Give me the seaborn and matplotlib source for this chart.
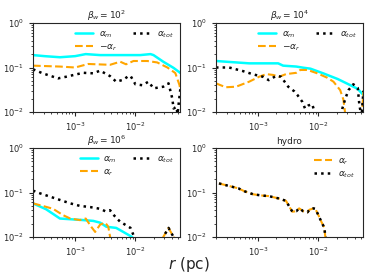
import numpy as np
import pandas as pd
import matplotlib
matplotlib.use("Agg")
import matplotlib.pyplot as plt
import seaborn as sns

# ---------------- data ----------------
titles = [r"$\beta_w = 10^2$", r"$\beta_w = 10^4$", r"$\beta_w = 10^6$", "hydro"]

# panel 1: beta_w = 1e2
r1_m = [2.0e-4, 3.1e-4, 5.6e-4, 1.0e-3, 1.5e-3, 2.6e-3, 6.3e-3, 1.2e-2, 1.78e-2, 2.0e-2, 2.9e-2, 4.3e-2, 5.6e-2]
a1_m = [0.19, 0.18, 0.17, 0.18, 0.20, 0.19, 0.19, 0.19, 0.20, 0.19, 0.135, 0.098, 0.075]
r1_r = [2.0e-4, 5.6e-4, 1.0e-3, 1.65e-3, 3.8e-3, 5.6e-3, 7.0e-3, 9.3e-3, 1.58e-2, 2.3e-2, 3.4e-2, 4.6e-2, 5.4e-2, 5.6e-2]
a1_r = [0.11, 0.105, 0.10, 0.12, 0.115, 0.135, 0.118, 0.14, 0.14, 0.13, 0.10, 0.075, 0.04, 0.03]
r1_t = [2.0e-4, 2.9e-4, 5.2e-4, 7.1e-4, 1.04e-3, 1.36e-3, 2.0e-3, 2.6e-3, 3.8e-3, 4.8e-3, 6.3e-3, 7.4e-3,
        8.3e-3, 1.0e-2, 1.3e-2, 1.65e-2, 2.0e-2, 2.9e-2, 3.55e-2, 4.1e-2, 4.3e-2, 4.8e-2, 5.0e-2, 5.6e-2]
a1_t = [0.091, 0.074, 0.057, 0.062, 0.070, 0.076, 0.074, 0.085, 0.064, 0.048, 0.053, 0.062,
        0.065, 0.042, 0.040, 0.048, 0.034, 0.037, 0.044, 0.020, 0.012, 0.013, 0.009, 0.035]

# panel 2: beta_w = 1e4
r2_m = [2.0e-4, 7.1e-4, 2.15e-3, 2.6e-3, 4.3e-3, 5.6e-3, 7.4e-3, 1.2e-2, 2.1e-2, 3.4e-2, 4.5e-2, 5.6e-2]
a2_m = [0.14, 0.124, 0.124, 0.11, 0.105, 0.099, 0.094, 0.074, 0.055, 0.040, 0.033, 0.024]
r2_r = [2.0e-4, 2.9e-4, 4.3e-4, 7.1e-4, 1.04e-3, 1.36e-3, 1.78e-3, 2.24e-3, 2.9e-3, 4.3e-3, 5.0e-3,
        6.6e-3, 9.6e-3, 1.4e-2, 1.78e-2, 2.3e-2, 2.6e-2, 2.9e-2, 5.2e-2, 5.6e-2]
a2_r = [0.044, 0.036, 0.037, 0.048, 0.062, 0.071, 0.068, 0.062, 0.071, 0.076, 0.088,
        0.088, 0.074, 0.059, 0.048, 0.031, 0.019, 0.006, 0.006, 0.030]
r2_t = [2.0e-4, 3.3e-4, 5.6e-4, 8.3e-4, 1.2e-3, 1.5e-3, 2.0e-3, 2.4e-3, 3.16e-3, 4.0e-3, 4.5e-3, 5.4e-3,
        6.0e-3, 6.8e-3, 7.9e-3, 8.3e-3, 9.3e-3, 2.3e-2, 2.5e-2, 2.8e-2, 3.16e-2, 3.8e-2, 4.5e-2,
        4.8e-2, 5.2e-2, 5.6e-2]
a2_t = [0.10, 0.10, 0.083, 0.070, 0.062, 0.052, 0.065, 0.062, 0.037, 0.029, 0.024, 0.017,
        0.012, 0.014, 0.015, 0.012, 0.006, 0.006, 0.012, 0.020, 0.031, 0.042, 0.035,
        0.014, 0.008, 0.030]

# panel 3: beta_w = 1e6
r3_m = [2.0e-4, 3.3e-4, 5.6e-4, 1.36e-3, 2.0e-3, 2.6e-3, 3.3e-3, 4.8e-3, 6.3e-3, 8.6e-3, 9.5e-3]
a3_m = [0.057, 0.042, 0.026, 0.024, 0.023, 0.021, 0.017, 0.016, 0.013, 0.0102, 0.009]
r3_r = [2.0e-4, 2.9e-4, 4.3e-4, 6.3e-4, 8.3e-4, 1.2e-3, 1.5e-3, 1.85e-3, 2.15e-3, 2.6e-3, 3.16e-3,
        3.55e-3, 3.8e-3, 4.1e-3, 2.6e-2, 2.9e-2, 3.55e-2, 4.3e-2, 4.8e-2]
a3_r = [0.057, 0.050, 0.043, 0.031, 0.026, 0.024, 0.026, 0.017, 0.013, 0.019, 0.021,
        0.017, 0.0102, 0.005, 0.005, 0.010, 0.016, 0.010, 0.005]
r3_t = [2.0e-4, 2.6e-4, 3.8e-4, 5.6e-4, 8.3e-4, 1.2e-3, 1.78e-3, 2.6e-3, 3.16e-3, 3.8e-3, 4.3e-3,
        4.8e-3, 5.6e-3, 6.3e-3, 8.3e-3, 9.3e-3, 1.04e-2, 2.6e-2, 2.9e-2, 3.55e-2, 4.3e-2, 4.8e-2]
a3_t = [0.11, 0.096, 0.081, 0.068, 0.057, 0.050, 0.047, 0.043, 0.038, 0.040, 0.032,
        0.027, 0.022, 0.020, 0.016, 0.011, 0.006, 0.006, 0.010, 0.016, 0.010, 0.006]

# panel 4: hydro
r4 = [2.24e-4, 3.3e-4, 4.7e-4, 5.9e-4, 8.3e-4, 1.2e-3, 1.5e-3, 2.15e-3, 2.9e-3, 3.3e-3, 3.7e-3,
      4.3e-3, 4.8e-3, 5.6e-3, 6.6e-3, 7.1e-3, 8.3e-3, 8.9e-3, 1.0e-2, 1.12e-2, 1.26e-2, 1.3e-2, 1.4e-2]
a4_r = [0.16, 0.14, 0.124, 0.107, 0.091, 0.085, 0.083, 0.074, 0.065, 0.048, 0.037,
        0.038, 0.044, 0.038, 0.036, 0.041, 0.044, 0.043, 0.031, 0.022, 0.016, 0.0102, 0.008]
a4_t = [0.16, 0.14, 0.124, 0.107, 0.091, 0.085, 0.083, 0.074, 0.065, 0.048, 0.037,
        0.038, 0.044, 0.038, 0.036, 0.041, 0.044, 0.043, 0.031, 0.022, 0.016, 0.0102, 0.008]

lab_m = r"$\alpha_m$"
lab_rneg = r"$-\alpha_r$"
lab_r = r"$\alpha_r$"
lab_t = r"$\alpha_{tot}$"

# ---------------- figure ----------------
sns.set_style("ticks")
plt.rcParams["font.family"] = ["DejaVu Sans"]
plt.rcParams["xtick.labelsize"] = 6
plt.rcParams["ytick.labelsize"] = 6
plt.rcParams["axes.linewidth"] = 0.8
plt.rcParams["xtick.major.size"] = 3
plt.rcParams["ytick.major.size"] = 3
plt.rcParams["xtick.minor.size"] = 1.5
plt.rcParams["ytick.minor.size"] = 1.5

fig = plt.figure(figsize=(3.74, 2.80), dpi=100)
W, H = 374.0, 280.0
pos = [(33, 23), (216, 23), (33, 148), (216, 148)]
axes = [fig.add_axes([x / W, 1 - (y + 89) / H, 147 / W, 89 / H]) for x, y in pos]

C_M, C_R, C_T = "#00ffff", "#ffa500", "black"


def draw(ax, r, a, color, ls, lw, label):
    df = pd.DataFrame({"r": r, "a": a})
    sns.lineplot(data=df, x="r", y="a", ax=ax, color=color, linestyle=ls, lw=lw,
                 label=label, estimator=None, sort=False)


series = [
    [(r1_m, a1_m, C_M, "-", 1.8, lab_m), (r1_r, a1_r, C_R, "--", 1.5, lab_rneg), (r1_t, a1_t, C_T, ":", 1.8, lab_t)],
    [(r2_m, a2_m, C_M, "-", 1.8, lab_m), (r2_r, a2_r, C_R, "--", 1.5, lab_rneg), (r2_t, a2_t, C_T, ":", 1.8, lab_t)],
    [(r3_m, a3_m, C_M, "-", 1.8, lab_m), (r3_r, a3_r, C_R, "--", 1.5, lab_r), (r3_t, a3_t, C_T, ":", 1.8, lab_t)],
    [(r4, a4_r, C_R, "--", 1.5, lab_r), (r4, a4_t, C_T, ":", 1.8, lab_t)],
]

for i, (ax, ser) in enumerate(zip(axes, series)):
    for s in ser:
        draw(ax, *s)
    ax.set_xscale("log")
    ax.set_yscale("log")
    ax.set_xlim(2.0e-4, 5.5e-2)
    ax.set_ylim(1e-2, 1.0)
    ax.set_xlabel("")
    ax.set_ylabel("")
    ax.set_title(titles[i], fontsize=6.5, pad=3)
    if i < 3:
        ax.legend(loc="upper right", ncol=2, frameon=False, fontsize=6.5,
                  labelspacing=0.3, columnspacing=1.8, handlelength=2.0,
                  borderaxespad=0.3, handletextpad=0.6)
    else:
        ax.legend(loc="upper right", ncol=1, frameon=False, fontsize=6.5,
                  labelspacing=0.3, handlelength=2.0, borderaxespad=0.5,
                  handletextpad=0.6)
    for sp in ax.spines.values():
        sp.set_visible(True)

fig.text(0.505, 0.055, r"$r$ (pc)", ha="center", va="center", fontsize=11)

fig.savefig("out.png", dpi=100)
